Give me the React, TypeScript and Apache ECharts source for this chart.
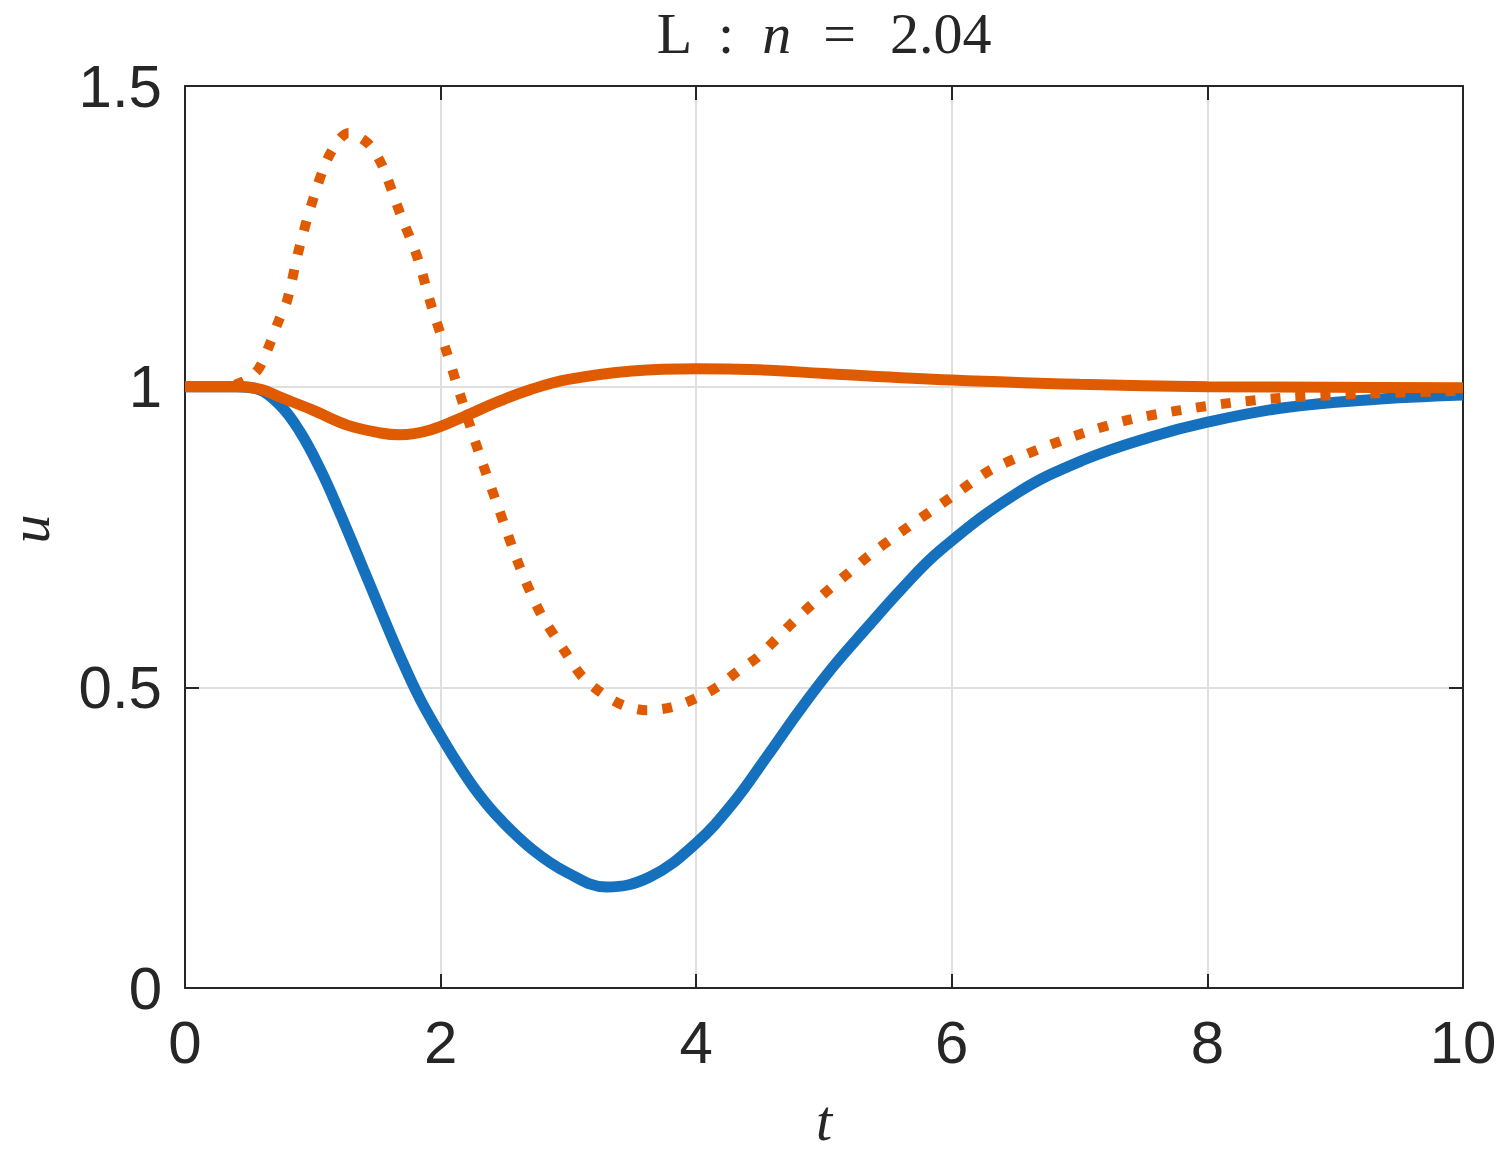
import React, { useEffect, useRef } from "react";
import * as echarts from "echarts";

const xTicks = [0, 2, 4, 6, 8, 10];
const yTicks = [0, 0.5, 1, 1.5];

const blueT = [0, 0.4, 0.55, 0.74, 0.9, 1.06, 1.21, 1.37, 1.53, 1.68, 1.84, 2.0, 2.15, 2.3, 2.46, 2.72, 2.99, 3.3, 3.64, 4.0, 4.29, 4.55, 4.81, 5.07, 5.34, 5.6, 5.91, 6.51, 7.03, 7.55, 8.0, 8.6, 9.25, 10];
const blueU = [1, 1, 0.997, 0.97, 0.925, 0.862, 0.791, 0.71, 0.628, 0.553, 0.48, 0.42, 0.368, 0.322, 0.282, 0.23, 0.192, 0.168, 0.185, 0.241, 0.308, 0.384, 0.462, 0.534, 0.6, 0.662, 0.728, 0.823, 0.878, 0.916, 0.941, 0.965, 0.978, 0.986];

const solidT = [0, 0.45, 0.6, 0.74, 1.0, 1.27, 1.53, 1.68, 1.92, 2.18, 2.45, 2.7, 3.0, 3.5, 4.0, 4.5, 5.0, 6.0, 7.0, 8.0, 9.0, 10];
const solidU = [1, 1.0, 0.995, 0.983, 0.961, 0.936, 0.923, 0.92, 0.928, 0.95, 0.975, 0.995, 1.012, 1.026, 1.03, 1.028, 1.022, 1.011, 1.004, 1.0, 0.999, 0.998];

const dotT = [0, 0.3, 0.45, 0.57, 0.66, 0.73, 0.8, 0.89, 1.0, 1.13, 1.28, 1.43, 1.54, 1.68, 1.82, 1.93, 2.05, 2.17, 2.3, 2.45, 2.62, 2.78, 2.99, 3.1, 3.25, 3.42, 3.61, 3.81, 4.0, 4.16, 4.32, 4.48, 4.62, 4.76, 4.9, 5.05, 5.19, 5.34, 5.6, 6.0, 6.3, 6.67, 7.03, 7.39, 7.79, 8.18, 8.57, 9.2, 10];
const dotU = [1, 1.0, 1.008, 1.028, 1.069, 1.108, 1.144, 1.227, 1.31, 1.385, 1.422, 1.405, 1.369, 1.29, 1.214, 1.133, 1.056, 0.975, 0.89, 0.8, 0.7, 0.624, 0.554, 0.52, 0.492, 0.471, 0.462, 0.467, 0.482, 0.5, 0.526, 0.55, 0.579, 0.609, 0.637, 0.665, 0.69, 0.717, 0.758, 0.817, 0.861, 0.895, 0.923, 0.945, 0.961, 0.973, 0.981, 0.988, 0.993];

const zip = (a: number[], b: number[]) => a.map((v, i) => [v, b[i]]);

const BLUE = "#1571BE";
const ORANGE = "#E05A00";
const AX = "#262626";
const GRID = "#dfdfdf";
const SANS = "'Liberation Sans', Arial, Helvetica, sans-serif";
const SERIF = "'Liberation Serif', 'DejaVu Serif', serif";

export default function App() {
  const ref = useRef<HTMLDivElement>(null);
  useEffect(() => {
    if (!ref.current) return;
    const chart = echarts.init(ref.current, null, { renderer: "svg" });
    const gl = 185, gt = 86, gw = 1278, gh = 902;
    const xBase = {
      type: "value" as const,
      min: xTicks[0],
      max: xTicks[xTicks.length - 1],
      interval: 2,
    };
    const yBase = {
      type: "value" as const,
      min: yTicks[0],
      max: yTicks[yTicks.length - 1],
      interval: 0.5,
    };
    const tick = { show: true, inside: true, length: 14, lineStyle: { color: AX, width: 2 } };
    const line = { show: true, onZero: false, lineStyle: { color: AX, width: 2 } };
    const TS = 58;
    chart.setOption({
      animation: false,
      backgroundColor: "#ffffff",
      textStyle: { fontFamily: SANS },
      grid: { left: gl, top: gt, width: gw, height: gh, containLabel: false },
      xAxis: [
        {
          ...xBase,
          position: "bottom",
          axisLine: line,
          axisTick: tick,
          splitLine: { show: true, lineStyle: { color: GRID, width: 2 } },
          axisLabel: { show: true, fontSize: 60, color: AX, margin: 24, fontFamily: SANS },
        },
        {
          ...xBase,
          position: "top",
          axisLine: line,
          axisTick: tick,
          splitLine: { show: false },
          axisLabel: { show: false },
        },
      ],
      yAxis: [
        {
          ...yBase,
          position: "left",
          axisLine: line,
          axisTick: tick,
          splitLine: { show: true, lineStyle: { color: GRID, width: 2 } },
          axisLabel: { show: true, fontSize: 60, color: AX, margin: 23, fontFamily: SANS },
        },
        {
          ...yBase,
          position: "right",
          axisLine: line,
          axisTick: tick,
          splitLine: { show: false },
          axisLabel: { show: false },
        },
      ],
      series: [
        {
          type: "line",
          xAxisIndex: 0,
          yAxisIndex: 0,
          data: zip(blueT, blueU),
          smooth: 0.4,
          showSymbol: false,
          lineStyle: { color: BLUE, width: 11 },
          z: 3,
        },
        {
          type: "line",
          xAxisIndex: 0,
          yAxisIndex: 0,
          data: zip(dotT, dotU),
          smooth: 0.3,
          showSymbol: false,
          lineStyle: { color: ORANGE, width: 10, type: [10, 15], cap: "butt" },
          z: 4,
        },
        {
          type: "line",
          xAxisIndex: 0,
          yAxisIndex: 0,
          data: zip(solidT, solidU),
          smooth: 0.4,
          showSymbol: false,
          lineStyle: { color: ORANGE, width: 11 },
          z: 5,
        },
      ],
      graphic: [
        {
          type: "text",
          x: gl + gw / 2,
          y: 33,
          style: {
            text: "{a|L}{c|:}{b|n}{d|=}{a|2.04}",
            align: "center",
            verticalAlign: "middle",
            fill: AX,
            rich: {
              a: { fontFamily: SERIF, fontSize: TS, lineHeight: 58, fill: AX },
              b: { fontFamily: SERIF, fontSize: TS, lineHeight: 58, fontStyle: "italic", fill: AX },
              c: { fontFamily: SERIF, fontSize: TS, lineHeight: 58, fill: AX, padding: [0, 28, 0, 26] },
              d: { fontFamily: SERIF, fontSize: TS, lineHeight: 58, fill: AX, padding: [0, 34, 0, 32] },
            },
          },
        },
        {
          type: "text",
          x: gl + gw / 2,
          y: 1120,
          style: {
            text: "t",
            align: "center",
            verticalAlign: "middle",
            fontFamily: SERIF,
            fontStyle: "italic",
            fontSize: 58,
            lineHeight: 54,
            fill: AX,
          },
        },
        {
          type: "text",
          x: 29,
          y: gt + gh / 2 - 8,
          rotation: Math.PI / 2,
          style: {
            text: "u",
            align: "center",
            verticalAlign: "middle",
            fontFamily: SERIF,
            fontStyle: "italic",
            fontSize: 58,
            lineHeight: 40,
            fill: AX,
          },
        },
      ],
    });
    return () => chart.dispose();
  }, []);
  return (
    <div
      ref={ref}
      style={{ position: "fixed", left: 0, top: 0, width: 1500, height: 1151, background: "#fff" }}
    />
  );
}
